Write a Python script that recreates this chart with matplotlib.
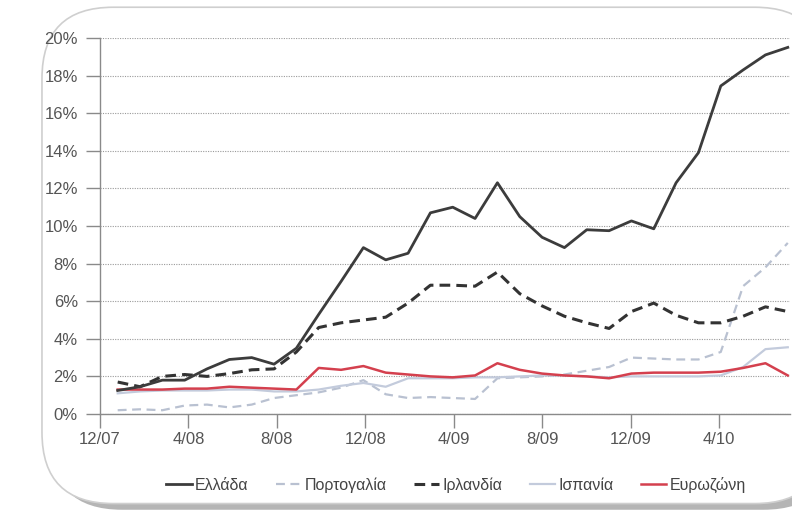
import numpy as np
import matplotlib
matplotlib.use("Agg")
import matplotlib.pyplot as plt
from matplotlib.patches import FancyBboxPatch
from matplotlib import font_manager

names = {f.name for f in font_manager.fontManager.ttflist}
fam = ['Liberation Sans Narrow', 'DejaVu Sans'] if 'Liberation Sans Narrow' in names else ['Liberation Sans', 'DejaVu Sans']
plt.rcParams['font.family'] = fam

# ---- data (monthly, Jan 2008 .. Jul 2010), values in % ----
tick_labels = ['12/07', '4/08', '8/08', '12/08', '4/09', '8/09', '12/09', '4/10']
greece = [1.25, 1.45, 1.8, 1.8, 2.4, 2.9, 3.0, 2.65, 3.5, 5.3, 7.05, 8.85, 8.2, 8.55, 10.7, 11.0,
          10.4, 12.3, 10.5, 9.4, 8.85, 9.8, 9.75, 10.27, 9.85, 12.3, 13.9, 17.45, 18.3, 19.1, 19.5]
portugal = [0.2, 0.25, 0.2, 0.45, 0.5, 0.35, 0.5, 0.85, 1.0, 1.15, 1.4, 1.8, 1.05, 0.85, 0.9, 0.85,
            0.8, 1.9, 1.95, 2.0, 2.1, 2.3, 2.5, 3.0, 2.95, 2.9, 2.9, 3.3, 6.8, 7.8, 9.1]
ireland = [1.7, 1.45, 2.0, 2.1, 2.0, 2.15, 2.35, 2.4, 3.3, 4.6, 4.85, 5.0, 5.15, 5.9, 6.85, 6.85,
           6.8, 7.55, 6.4, 5.75, 5.2, 4.85, 4.55, 5.45, 5.9, 5.25, 4.85, 4.85, 5.2, 5.7, 5.45]
spain = [1.1, 1.2, 1.25, 1.25, 1.25, 1.3, 1.3, 1.2, 1.2, 1.3, 1.5, 1.65, 1.45, 1.9, 1.9, 1.9,
         1.95, 1.95, 2.0, 2.05, 2.05, 2.0, 1.95, 2.0, 2.0, 2.0, 2.0, 2.05, 2.5, 3.45, 3.55]
eurozone = [1.3, 1.3, 1.3, 1.35, 1.35, 1.45, 1.4, 1.35, 1.3, 2.45, 2.35, 2.55, 2.2, 2.1, 2.0, 1.95,
            2.05, 2.7, 2.35, 2.15, 2.05, 2.0, 1.9, 2.15, 2.2, 2.2, 2.2, 2.25, 2.45, 2.7, 2.05]
series_names = ['Ελλάδα', 'Πορτογαλία', 'Ιρλανδία', 'Ισπανία', 'Ευρωζώνη']

n = len(greece)
x = 0.8 + 1.01 * np.arange(n)   # month offset from 12/07
tick_pos = np.arange(0, 4 * len(tick_labels), 4)

fig = plt.figure(figsize=(7.92, 5.17), dpi=100)
fig.patch.set_facecolor('white')

# rounded frame with shadow
shadow = FancyBboxPatch((0.064, 0.014), 0.99, 0.96, transform=fig.transFigure,
                        boxstyle="round,pad=0,rounding_size=0.09", facecolor='#b5b5b5',
                        edgecolor='none', zorder=0, mutation_aspect=792 / 517)
fig.patches.append(shadow)
frame = FancyBboxPatch((0.053, 0.026), 0.99, 0.96, transform=fig.transFigure,
                       boxstyle="round,pad=0,rounding_size=0.09", facecolor='white',
                       edgecolor='#cfcfcf', linewidth=1.2, zorder=1, mutation_aspect=792 / 517)
fig.patches.append(frame)

ax = fig.add_axes([100 / 792, 103 / 517, 690 / 792, 376 / 517])
ax.set_facecolor('none')
ax.set_zorder(2)

ax.plot(x, greece, color='#3c3c3c', lw=2.0, label=series_names[0], zorder=6)
ax.plot(x, portugal, color='#b9c1d1', lw=1.6, ls=(0, (4, 2.5)), label=series_names[1], zorder=3)
ax.plot(x, ireland, color='#333333', lw=2.2, ls=(0, (3.5, 2)), label=series_names[2], zorder=5)
ax.plot(x, spain, color='#c3cbdc', lw=1.6, label=series_names[3], zorder=3)
ax.plot(x, eurozone, color='#d4404e', lw=1.8, label=series_names[4], zorder=4)

ax.set_xlim(0, 31.2)
ax.set_ylim(0, 20)
ax.set_yticks(np.arange(0, 21, 2))
ax.set_yticklabels([f'{v}%' for v in range(0, 21, 2)])
ax.set_xticks(tick_pos)
ax.set_xticklabels(tick_labels)
ax.yaxis.grid(True, color='#9a9a9a', ls=(0, (1, 1.2)), lw=0.8)
ax.set_axisbelow(True)
for s in ['top', 'right']:
    ax.spines[s].set_visible(False)
for s in ['left', 'bottom']:
    ax.spines[s].set_color('#8a8a8a')
    ax.spines[s].set_linewidth(1.0)
ax.tick_params(axis='both', colors='#8a8a8a', labelcolor='#555555', labelsize=12,
               length=10, width=1.0, direction='out')
ax.tick_params(axis='y', pad=6)
ax.tick_params(axis='x', pad=3)

leg = fig.legend(loc='center', bbox_to_anchor=(456 / 792, 1 - 485 / 517), ncol=5, frameon=False,
                 fontsize=11.5, handlelength=1.6, handletextpad=0.2, columnspacing=1.7)
for t in leg.get_texts():
    t.set_color('#444444')

fig.savefig('out.png', dpi=100)
